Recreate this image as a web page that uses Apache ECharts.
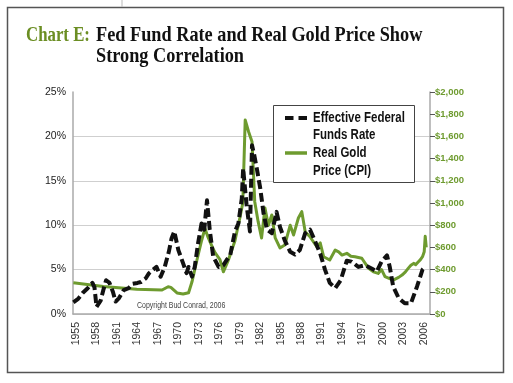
<!DOCTYPE html>
<html>
<head>
<meta charset="utf-8">
<script src="https://cdn.jsdelivr.net/npm/echarts@6/dist/echarts.min.js"></script>
<style>html,body{margin:0;padding:0;background:#fff;}#c{width:513px;height:383px;}</style>
</head>
<body>
<div id="c"></div>
<script>
// ---- data ----
var yearTicks = [1955,1958,1961,1964,1967,1970,1973,1976,1979,1982,1985,1988,1991,1994,1997,2000,2003,2006];
var rateTicks = ['0%','5%','10%','15%','20%','25%'];

var fedYears = [1954.6,1955.3,1956.0,1956.7,1957.4,1957.7,1958.0,1958.6,1959.0,1959.4,1959.9,1960.4,1960.8,1961.3,1962.0,1962.7,1963.3,1964.0,1964.5,1965.2,1965.7,1966.3,1966.8,1967.4,1968.0,1968.6,1969.0,1969.4,1970.0,1970.7,1971.2,1971.5,1972.0,1972.4,1972.9,1973.4,1973.8,1974.2,1974.6,1975.1,1975.9,1976.6,1977.1,1977.6,1978.3,1978.8,1979.3,1979.5,1980.0,1980.5,1980.8,1981.1,1981.5,1982.0,1982.5,1983.0,1983.7,1984.4,1984.9,1985.6,1986.4,1987.1,1987.8,1988.6,1989.3,1990.0,1990.8,1991.5,1992.2,1993.0,1993.8,1994.7,1995.4,1996.4,1997.4,1998.4,1999.1,1999.8,2000.6,2001.0,2001.5,2002.3,2003.2,2004.1,2005.0,2005.8,2006.2];
var fedRates = [1.3,1.7,2.4,2.9,3.5,3.0,0.8,1.5,2.7,3.8,3.5,2.5,1.4,1.8,2.7,2.9,3.4,3.5,3.6,4.0,4.6,5.0,5.3,4.2,5.3,7.0,8.5,9.3,7.2,5.7,4.6,5.3,4.2,5.3,8.0,10.2,9.5,12.8,9.5,6.5,5.3,5.5,6.1,6.6,9.3,10.2,13.0,16.4,12.3,9.3,19.0,18.0,16.4,14.2,11.3,9.5,9.1,11.5,9.8,8.3,7.0,6.7,7.2,9.1,9.5,8.3,6.8,5.0,3.5,2.9,3.8,6.0,5.9,5.3,5.5,5.1,4.8,5.9,6.6,5.3,3.1,1.8,1.2,1.2,3.1,5.0,5.3];

var goldYears = [1954.6,1959.0,1963.9,1967.6,1968.5,1968.9,1969.8,1970.7,1971.5,1972.0,1972.7,1973.4,1973.9,1974.3,1975.0,1975.4,1976.1,1976.6,1977.3,1978.3,1979.0,1979.45,1979.8,1980.3,1980.8,1981.2,1981.7,1982.2,1982.7,1983.2,1983.7,1984.2,1984.9,1985.6,1986.4,1986.9,1987.6,1988.1,1988.6,1989.3,1990.3,1990.8,1991.3,1992.2,1993.0,1993.5,1994.0,1994.7,1995.3,1995.9,1996.9,1997.9,1998.6,1999.3,1999.8,2000.3,2001.5,2002.3,2002.8,2003.3,2003.7,2004.1,2004.5,2004.8,2005.2,2005.5,2005.8,2006.05,2006.2,2006.35];
var goldPrices = [282,248,224,216,246,240,190,180,192,290,480,660,770,700,600,550,490,380,480,660,860,1000,1748,1642,1552,1012,832,685,955,800,892,685,595,621,800,712,865,922,741,696,606,640,516,486,576,560,531,547,520,516,502,411,380,366,400,336,306,330,351,380,411,440,456,445,471,490,516,560,700,600];

var GREEN = '#6e9b2f';
var SANS = '"Liberation Sans",Arial,sans-serif';

function zip(a, b) { return a.map(function (v, i) { return [v, b[i]]; }); }

var chart = echarts.init(document.getElementById('c'), null, {renderer: 'canvas'});
chart.setOption({
  animation: false,
  backgroundColor: '#fff',
  grid: {left: 73, right: 83, top: 92, bottom: 69, containLabel: false},
  xAxis: {
    type: 'value', min: 1954.55, max: 2006.9,
    axisLine: {show: true, lineStyle: {color: '#aaa', width: 1.5}},
    axisTick: {show: false},
    splitLine: {show: false},
    axisLabel: {
      customValues: yearTicks, rotate: 90, margin: 8,
      fontFamily: SANS, fontSize: 10.5, color: '#333',
      formatter: function (v) { return String(v); }
    }
  },
  yAxis: [{
    type: 'value', min: 0, max: 25, interval: 5, position: 'left',
    axisLine: {show: true, lineStyle: {color: '#aaa', width: 1.5}},
    axisTick: {show: false},
    splitLine: {show: true, showMaxLine: false, lineStyle: {color: '#cfcfcf', width: 1}},
    axisLabel: {
      margin: 7, fontFamily: SANS, fontSize: 10.5, color: '#222',
      formatter: function (v) { return rateTicks[Math.round(v / 5)]; }
    }
  }, {
    type: 'value', min: 0, max: 2000, interval: 200, position: 'right',
    axisLine: {show: true, lineStyle: {color: '#aaa', width: 1.5}},
    axisTick: {show: true, length: 5, lineStyle: {color: '#555', width: 1}},
    splitLine: {show: false},
    axisLabel: {
      margin: 5, fontFamily: SANS, fontSize: 9.5, fontWeight: 'bold', color: GREEN,
      formatter: function (v) { return '$' + v.toLocaleString('en-US'); }
    }
  }],
  series: [{
    name: 'Real Gold Price (CPI)', type: 'line', yAxisIndex: 1,
    data: zip(goldYears, goldPrices), symbol: 'none',
    lineStyle: {color: GREEN, width: 3, join: 'round'}
  }, {
    name: 'Effective Federal Funds Rate', type: 'line', yAxisIndex: 0,
    data: zip(fedYears, fedRates), symbol: 'none',
    lineStyle: {color: '#111', width: 4, type: [9, 4], cap: 'butt', join: 'round'}
  }],
  graphic: [
    {type: 'rect', shape: {x: 7.5, y: 7.5, width: 496, height: 365}, style: {fill: 'none', stroke: '#555', lineWidth: 1.5}, silent: true},
    {type: 'line', shape: {x1: 122, y1: 0, x2: 122, y2: 7}, style: {stroke: '#bbb', lineWidth: 1}},
    {type: 'text', x: 26, y: 36, scaleX: 0.8,
      style: {text: 'Chart E:', x: 0, y: 0, font: 'bold 21px "Liberation Serif", serif', fill: '#6b8e23', textVerticalAlign: 'middle', verticalAlign: 'middle'}},
    {type: 'text', x: 96, y: 36, scaleX: 0.87,
      style: {text: 'Fed Fund Rate and Real Gold Price Show', x: 0, y: 0, font: 'bold 21px "Liberation Serif", serif', fill: '#111', textVerticalAlign: 'middle', verticalAlign: 'middle'}},
    {type: 'text', x: 96, y: 57, scaleX: 0.87,
      style: {text: 'Strong Correlation', x: 0, y: 0, font: 'bold 21px "Liberation Serif", serif', fill: '#111', textVerticalAlign: 'middle', verticalAlign: 'middle'}},
    {type: 'text', x: 137, y: 306, scaleX: 0.82,
      style: {text: 'Copyright Bud Conrad, 2006', x: 0, y: 0, font: '8.5px ' + SANS, fill: '#444', textVerticalAlign: 'middle', verticalAlign: 'middle'}},
    // legend box
    {type: 'rect', z: 100, shape: {x: 273.5, y: 105.5, width: 141, height: 77}, style: {fill: '#fff', stroke: '#444', lineWidth: 1}},
    {type: 'line', z: 101, shape: {x1: 285, y1: 118, x2: 307, y2: 118}, style: {stroke: '#111', lineWidth: 4, lineDash: [8.5, 5]}},
    {type: 'line', z: 101, shape: {x1: 285, y1: 153, x2: 307, y2: 153}, style: {stroke: GREEN, lineWidth: 3.5}},
    {type: 'text', z: 101, x: 313, y: 118, scaleX: 0.82, style: {text: 'Effective Federal', x: 0, y: 0, font: 'bold 14px ' + SANS, fill: '#111', textVerticalAlign: 'middle', verticalAlign: 'middle'}},
    {type: 'text', z: 101, x: 313, y: 135, scaleX: 0.82, style: {text: 'Funds Rate', x: 0, y: 0, font: 'bold 14px ' + SANS, fill: '#111', textVerticalAlign: 'middle', verticalAlign: 'middle'}},
    {type: 'text', z: 101, x: 313, y: 153, scaleX: 0.82, style: {text: 'Real Gold', x: 0, y: 0, font: 'bold 14px ' + SANS, fill: '#111', textVerticalAlign: 'middle', verticalAlign: 'middle'}},
    {type: 'text', z: 101, x: 313, y: 171, scaleX: 0.82, style: {text: 'Price (CPI)', x: 0, y: 0, font: 'bold 14px ' + SANS, fill: '#111', textVerticalAlign: 'middle', verticalAlign: 'middle'}}
  ]
});
</script>
</body>
</html>
